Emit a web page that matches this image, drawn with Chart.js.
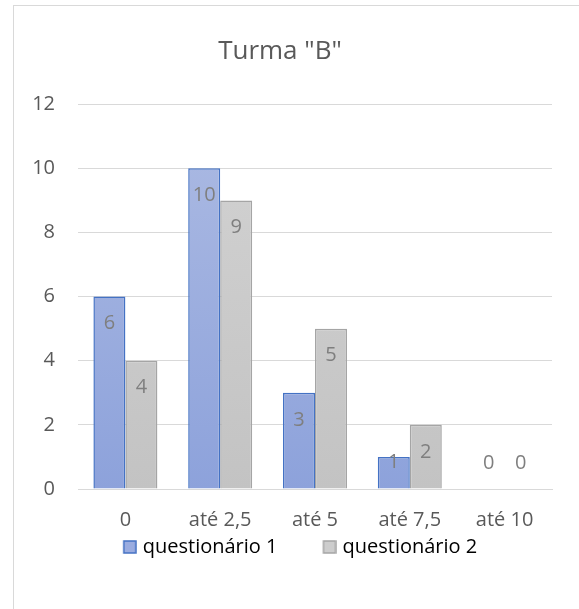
<!DOCTYPE html>
<html>
<head>
<meta charset="utf-8">
<script src="https://cdn.jsdelivr.net/npm/chart.js@4"></script>
<style>
  body { margin: 0; background: #fff; overflow: hidden; }
  #frame { position: absolute; left: 13px; top: 5px; width: 570px; height: 610px;
           border-top: 1px solid #d9d9d9; border-left: 1px solid #d9d9d9; }
  #wrap { position: absolute; left: 0; top: 6px; width: 579px; height: 603px; }
</style>
</head>
<body>
<div id="frame"></div>
<div id="wrap"><canvas id="turmaChart"></canvas></div>
<script>
const categories = ['0', 'até 2,5', 'até 5', 'até 7,5', 'até 10'];
const questionario1 = [6, 10, 3, 1, 0];
const questionario2 = [4, 9, 5, 2, 0];
const yTicks = [0, 2, 4, 6, 8, 10, 12];

const FONT = '"Open Sans", sans-serif';
const TEXT = '#595959';
const LEGEND_BOX = 50;

function gradient(ctx, top, bottom) {
    const chart = ctx.chart;
    const area = chart.chartArea;
    if (!area) return bottom;
    const g = chart.ctx.createLinearGradient(0, area.top, 0, area.bottom);
    g.addColorStop(0, top);
    g.addColorStop(1, bottom);
    return g;
}

// legend marker: small square at the right end of a wider blank box,
// this gives the gap between the two legend entries
function legendSquare(fill, stroke) {
    const cv = document.createElement('canvas');
    cv.width = LEGEND_BOX + 8;
    cv.height = 14;
    const c = cv.getContext('2d');
    c.fillStyle = fill;
    c.fillRect(cv.width - 13, 1, 12, 12);
    c.strokeStyle = stroke;
    c.lineWidth = 1.5;
    c.strokeRect(cv.width - 13, 1, 12, 12);
    return cv;
}

// value labels at the inside end of each bar, pushed up when the bar is short
const valueLabels = {
    id: 'valueLabels',
    afterDatasetsDraw(chart) {
        const c = chart.ctx;
        c.save();
        c.font = '20px ' + FONT;
        c.fillStyle = '#7f7f7f';
        c.textAlign = 'center';
        c.textBaseline = 'middle';
        chart.data.datasets.forEach((ds, i) => {
            chart.getDatasetMeta(i).data.forEach((bar, j) => {
                const y = Math.min(bar.y + 27, bar.base - 26);
                c.fillText(String(ds.data[j]), bar.x, y);
            });
        });
        c.restore();
    }
};

const markers = [legendSquare('#9aace0', '#4472c4'), legendSquare('#cdcdcd', '#a5a5a5')];

const ctx = document.getElementById('turmaChart').getContext('2d');
const turmaChart = new Chart(ctx, {
    type: 'bar',
    data: {
        labels: categories,
        datasets: [{
            label: 'questionário 1',
            data: questionario1,
            backgroundColor: (c) => gradient(c, '#adbbe3', '#8da2db'),
            borderColor: '#4472c4',
            borderWidth: 1.5
        }, {
            label: 'questionário 2',
            data: questionario2,
            backgroundColor: (c) => gradient(c, '#d3d3d3', '#c3c3c3'),
            borderColor: '#a5a5a5',
            borderWidth: 1.5
        }]
    },
    plugins: [valueLabels],
    options: {
        responsive: true,
        maintainAspectRatio: false,
        animation: false,
        barPercentage: 1,
        categoryPercentage: 0.675,
        layout: { padding: { left: 8, right: 27, top: 30, bottom: 42 } },
        plugins: {
            title: {
                display: true,
                text: 'Turma "B"',
                color: TEXT,
                font: { family: FONT, size: 26, weight: 'normal' },
                padding: { top: 0, bottom: 37 }
            },
            legend: {
                position: 'bottom',
                labels: {
                    color: TEXT,
                    font: { family: FONT, size: 20 },
                    usePointStyle: true,
                    pointStyleWidth: LEGEND_BOX,
                    padding: 5,
                    generateLabels(chart) {
                        return chart.data.datasets.map((ds, i) => ({
                            text: ds.label,
                            pointStyle: markers[i],
                            fillStyle: 'transparent',
                            strokeStyle: 'transparent',
                            lineWidth: 0,
                            datasetIndex: i
                        }));
                    }
                }
            },
            tooltip: { enabled: false }
        },
        scales: {
            x: {
                afterFit(axis) { axis.height = 43; },
                grid: { display: false, drawTicks: false },
                border: { color: '#d9d9d9' },
                ticks: { color: TEXT, font: { family: FONT, size: 20 }, padding: 19 }
            },
            y: {
                min: 0,
                max: 12,
                afterBuildTicks(axis) {
                    axis.ticks = yTicks.map(v => ({ value: v }));
                },
                afterFit(axis) { axis.width = 70; },
                grid: { color: '#d9d9d9', drawTicks: false },
                border: { display: false },
                ticks: { color: TEXT, font: { family: FONT, size: 20 }, padding: 23 }
            }
        }
    }
});
</script>
</body>
</html>
